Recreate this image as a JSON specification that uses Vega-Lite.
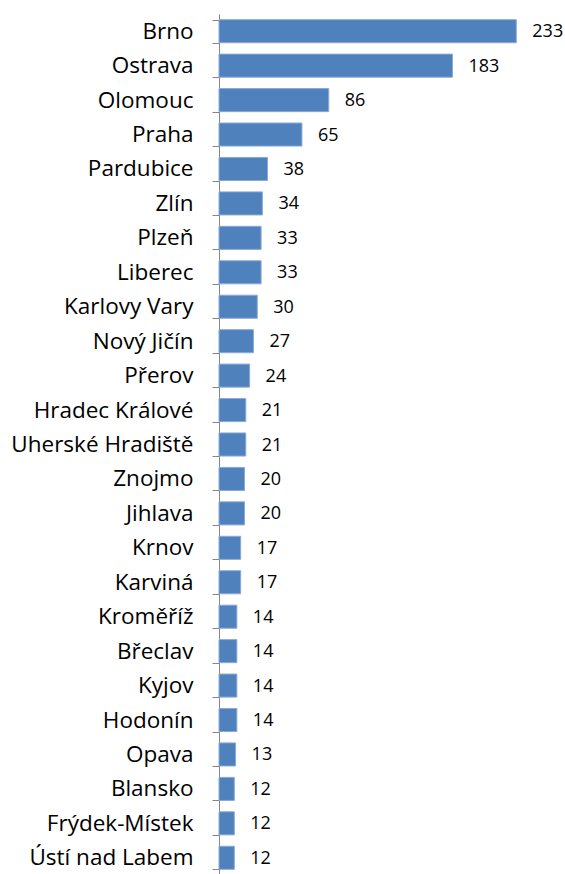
{
  "$schema": "https://vega.github.io/schema/vega-lite/v6.json",
  "width": 319,
  "height": 861,
  "autosize": {"type": "none"},
  "padding": {"left": 219, "top": 14, "right": 27, "bottom": 0},
  "background": "white",
  "config": {"view": {"stroke": null}},
  "data": {"values": [
    {"city": "Brno", "count": 233},
    {"city": "Ostrava", "count": 183},
    {"city": "Olomouc", "count": 86},
    {"city": "Praha", "count": 65},
    {"city": "Pardubice", "count": 38},
    {"city": "Zlín", "count": 34},
    {"city": "Plzeň", "count": 33},
    {"city": "Liberec", "count": 33},
    {"city": "Karlovy Vary", "count": 30},
    {"city": "Nový Jičín", "count": 27},
    {"city": "Přerov", "count": 24},
    {"city": "Hradec Králové", "count": 21},
    {"city": "Uherské Hradiště", "count": 21},
    {"city": "Znojmo", "count": 20},
    {"city": "Jihlava", "count": 20},
    {"city": "Krnov", "count": 17},
    {"city": "Karviná", "count": 17},
    {"city": "Kroměříž", "count": 14},
    {"city": "Břeclav", "count": 14},
    {"city": "Kyjov", "count": 14},
    {"city": "Hodonín", "count": 14},
    {"city": "Opava", "count": 13},
    {"city": "Blansko", "count": 12},
    {"city": "Frýdek-Místek", "count": 12},
    {"city": "Ústí nad Labem", "count": 12}
  ]},
  "encoding": {
    "y": {
      "field": "city", "type": "nominal", "sort": null,
      "scale": {"paddingInner": 0.33, "paddingOuter": 0.165},
      "axis": {
        "title": null,
        "tickBand": "extent",
        "tickSize": 7,
        "tickColor": "#868686",
        "domainColor": "#868686",
        "labelPadding": 19,
        "labelLimit": 300,
        "labelFont": "Open Sans",
        "labelFontSize": 22.5,
        "labelColor": "#000000"
      }
    },
    "x": {
      "field": "count", "type": "quantitative",
      "scale": {"domain": [0, 250]},
      "axis": null
    }
  },
  "layer": [
    {"mark": {"type": "bar", "color": "#4F81BD", "stroke": "#8AAAD6", "strokeWidth": 1}},
    {"mark": {"type": "text", "align": "left", "baseline": "middle", "dx": 16, "dy": 1, "font": "Open Sans", "fontSize": 18, "color": "#000000"},
     "encoding": {"text": {"field": "count", "type": "quantitative"}}}
  ]
}
